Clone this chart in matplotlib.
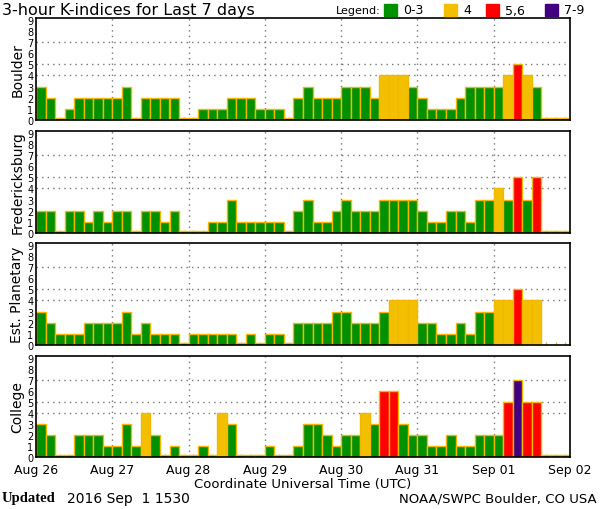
import numpy as np
import matplotlib
matplotlib.use("Agg")
import matplotlib.pyplot as plt
from matplotlib.patches import Rectangle

# 3-hour K-indices, 8 per day, Aug 26 .. Sep 01 (nan = no data)
days = ["Aug 26", "Aug 27", "Aug 28", "Aug 29", "Aug 30", "Aug 31", "Sep 01", "Sep 02"]
stations = ["Boulder", "Fredericksburg", "Est. Planetary", "College"]

boulder = [3, 2, 0, 1, 2, 2, 2, 2,
           2, 3, 0, 2, 2, 2, 2, 0,
           0, 1, 1, 1, 2, 2, 2, 1,
           1, 1, 0, 2, 3, 2, 2, 2,
           3, 3, 3, 2, 4, 4, 4, 3,
           2, 1, 1, 1, 2, 3, 3, 3,
           3, 4, 5, 4, 3, 0, 0, 0]
fredericksburg = [2, 2, 0, 2, 2, 1, 2, 1,
                  2, 2, 0, 2, 2, 1, 2, 0,
                  0, 0, 1, 1, 3, 1, 1, 1,
                  1, 1, 0, 2, 3, 1, 1, 2,
                  3, 2, 2, 2, 3, 3, 3, 3,
                  2, 1, 1, 2, 2, 1, 3, 3,
                  4, 3, 5, 3, 5, 0, 0, 0]
planetary = [3, 2, 1, 1, 1, 2, 2, 2,
             2, 3, 1, 2, 1, 1, 1, 0,
             1, 1, 1, 1, 1, 0, 1, 0,
             1, 1, 0, 2, 2, 2, 2, 3,
             3, 2, 2, 2, 3, 4, 4, 4,
             2, 2, 1, 1, 2, 1, 3, 3,
             4, 4, 5, 4, 4, np.nan, np.nan, np.nan]
college = [3, 2, 0, 0, 2, 2, 2, 1,
           1, 3, 1, 4, 2, 0, 1, 0,
           0, 1, 0, 4, 3, 0, 0, 0,
           1, 0, 0, 1, 3, 3, 2, 1,
           2, 2, 4, 3, 6, 6, 3, 2,
           2, 1, 1, 2, 1, 1, 2, 2,
           2, 5, 7, 5, 5, 0, 0, 0]

GREEN = "#009100"
YELLOW = "#f2c000"
RED = "#ff0000"
PURPLE = "#40007f"


def kcolor(k):
    if k <= 3:
        return GREEN
    if k == 4:
        return YELLOW
    if k <= 6:
        return RED
    return PURPLE


W, H = 600, 510
fig = plt.figure(figsize=(W / 100, H / 100), dpi=100)

# panel top/bottom in pixels
panels = [(19, 121), (132, 234), (244, 346), (357, 458)]
left, right = 36, 570

x = np.arange(56) / 8 + 1 / 16
for name, vals, (top, bot) in zip(stations, [boulder, fredericksburg, planetary, college], panels):
    ax = fig.add_axes([left / W, 1 - bot / H, (right - left) / W, (bot - top) / H])
    vals = np.array(vals, dtype=float)
    ok = ~np.isnan(vals)
    heights = np.where(vals[ok] == 0, 0.18, vals[ok])
    ax.bar(x[ok], heights, width=1 / 8, color=[kcolor(v) for v in vals[ok]],
           edgecolor="#f2b800", linewidth=1, zorder=2)
    ax.set_xlim(0, 7)
    ax.set_ylim(0, 9.15)
    for d in range(1, 7):
        ax.axvline(d, color="#777777", linestyle=(0, (1, 3)), linewidth=1, zorder=1)
    for yy in (4, 5, 7):
        ax.axhline(yy, color="#777777", linestyle=(0, (1, 3)), linewidth=1, zorder=1)
    ax.set_yticks(range(10))
    ax.tick_params(axis="y", length=0, pad=2, labelsize=7)
    ax.set_xticks(x, minor=True)
    ax.tick_params(axis="x", which="minor", direction="in", length=2, color="#f2b800", width=1)
    ax.set_xticks(range(8))
    ax.tick_params(axis="x", which="major", length=0, pad=4, labelsize=9)
    if name == "College":
        ax.set_xticklabels(days)
    else:
        ax.set_xticklabels([])
    ax.set_ylabel(name, fontsize=10, labelpad=2)
    for s in ax.spines.values():
        s.set_linewidth(1.2)
    ax.spines["right"].set_linestyle((0, (2, 1)))

fig.text(2 / W, 1 - 10 / H, "3-hour K-indices for Last 7 days", fontsize=11.5, va="center", ha="left")

# legend
fig.text(336 / W, 1 - 11 / H, "Legend:", fontsize=8, va="center", ha="left")
legend_items = [(GREEN, "0-3", 384), (YELLOW, "4", 444), (RED, "5,6", 486), (PURPLE, "7-9", 545)]
for col, lab, px in legend_items:
    fig.patches.append(Rectangle((px / W, 1 - 17 / H), 13 / W, 12 / H, color=col,
                                 transform=fig.transFigure, figure=fig))
    fig.text((px + 19) / W, 1 - 11 / H, lab, fontsize=9, va="center", ha="left")

fig.text(303 / W, 1 - 485 / H, "Coordinate Universal Time (UTC)", fontsize=9.5, va="center", ha="center")
fig.text(2 / W, 1 - 499 / H, "Updated", fontsize=10.5, fontweight="bold", family="Liberation Serif",
         va="center", ha="left")
fig.text(67 / W, 1 - 499 / H, "2016 Sep  1 1530", fontsize=10, va="center", ha="left")
fig.text(597 / W, 1 - 499 / H, "NOAA/SWPC Boulder, CO USA", fontsize=9.5, va="center", ha="right")

fig.savefig("out.png", dpi=100)
